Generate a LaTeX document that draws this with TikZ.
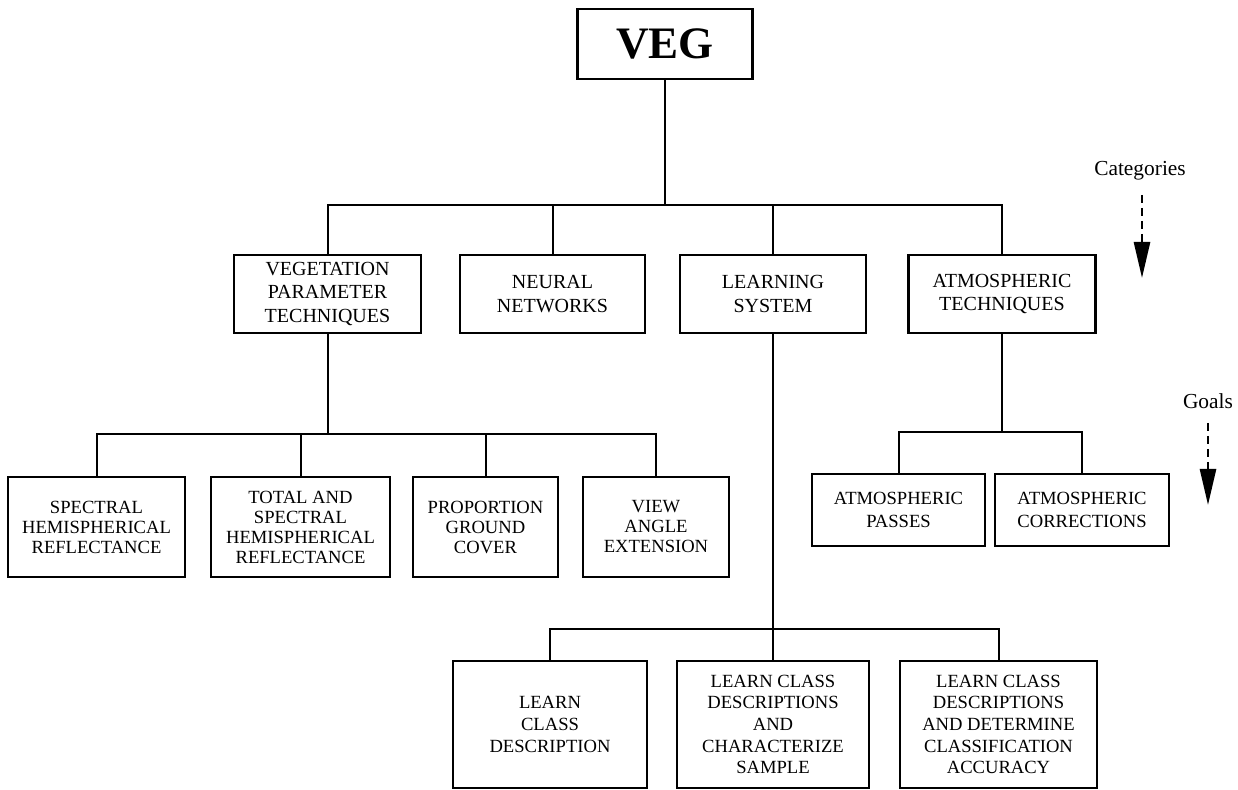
\documentclass[tikz,border=0pt]{standalone}
\usepackage{fontspec}
\setmainfont{Liberation Serif}
\usetikzlibrary{arrows.meta}

\begin{document}
\begin{tikzpicture}[
  x=0.5pt, y=-0.5pt,
  box/.style={draw, line width=1.2pt, align=center, inner sep=2pt},
  topbox/.style={box, font=\fontsize{22.5}{24}\selectfont\bfseries,
                 minimum width=87.5pt, minimum height=35pt},
  catbox/.style={box, font=\fontsize{10}{11.7}\selectfont, minimum height=39pt},
  goalbox/.style={box, font=\fontsize{9.3}{10}\selectfont, minimum height=50pt},
  atmgoal/.style={box, font=\fontsize{9.3}{11.5}\selectfont, minimum height=36pt},
  learngoal/.style={box, font=\fontsize{9.3}{10.8}\selectfont, minimum height=63.5pt},
  link/.style={line width=1pt},
  hint/.style={font=\fontsize{10.7}{12}\selectfont, inner sep=1pt},
  hintarr/.style={line width=1.3pt, dash pattern=on 4pt off 2.5pt, shorten <=6pt,
                  -{Triangle[length=18pt,width=8pt]}}
]
\useasboundingbox (0,0) rectangle (1238,790);
% ----- root -----
\node[topbox] (veg) at (665,44) {VEG};
% ----- categories -----
\node[catbox, minimum width=93.5pt] (vegcat) at (327.5,294) {VEGETATION\\PARAMETER\\TECHNIQUES};
\node[catbox, minimum width=92.5pt] (neural) at (552.5,294) {NEURAL\\NETWORKS};
\node[catbox, minimum width=93pt] (learning) at (773,294) {LEARNING\\SYSTEM};
\node[catbox, minimum width=93.5pt] (atmcat) at (1002,294) {ATMOSPHERIC\\TECHNIQUES};
\coordinate (topbus) at (0,205);
\foreach \c in {vegcat,neural,learning,atmcat}{\draw[link] (veg.south) |- (\c.north |- topbus) -- (\c.north);}
% ----- goals: vegetation parameters -----
\node[goalbox, minimum width=88.5pt] (spectral) at (96.5,527) {SPECTRAL\\HEMISPHERICAL\\REFLECTANCE};
\node[goalbox, minimum width=89.5pt] (total) at (300.5,527) {TOTAL AND\\SPECTRAL\\HEMISPHERICAL\\REFLECTANCE};
\node[goalbox, minimum width=72.5pt] (proportion) at (485.5,527) {PROPORTION\\GROUND\\COVER};
\node[goalbox, minimum width=73pt] (view) at (656,527) {VIEW\\ANGLE\\EXTENSION};
\coordinate (vegbus) at (0,434);
\foreach \c in {spectral,total,proportion,view}{\draw[link] (vegcat.south) |- (\c.north |- vegbus) -- (\c.north);}
% ----- goals: atmospheric -----
\node[atmgoal, minimum width=86.5pt] (passes) at (898.5,510) {ATMOSPHERIC\\PASSES};
\node[atmgoal, minimum width=87pt] (corrections) at (1082,510) {ATMOSPHERIC\\CORRECTIONS};
\coordinate (atmbus) at (0,432);
\foreach \c in {passes,corrections}{\draw[link] (atmcat.south) |- (\c.north |- atmbus) -- (\c.north);}
% ----- goals: learning system -----
\node[learngoal, minimum width=97pt] (learnone) at (550,724.5) {LEARN\\CLASS\\DESCRIPTION};
\node[learngoal, minimum width=96pt] (learntwo) at (773,724.5) {LEARN CLASS\\DESCRIPTIONS\\AND\\CHARACTERIZE\\SAMPLE};
\node[learngoal, minimum width=98.5pt] (learnthree) at (998.5,724.5) {LEARN CLASS\\DESCRIPTIONS\\AND DETERMINE\\CLASSIFICATION\\ACCURACY};
\coordinate (learnbus) at (0,629);
\foreach \c in {learnone,learntwo,learnthree}{\draw[link] (learning.south) |- (\c.north |- learnbus) -- (\c.north);}
% ----- level hints, right margin -----
\node[hint] (cats) at (1140,171) {Categories};
\coordinate (catstip) at (1142,278);
\draw[hintarr] (cats.south -| catstip) -- (catstip);
\node[hint] (goals) at (1208,401) {Goals};
\coordinate (goalstip) at (1208,505);
\draw[hintarr] (goals.south -| goalstip) -- (goalstip);
\end{tikzpicture}
\end{document}
